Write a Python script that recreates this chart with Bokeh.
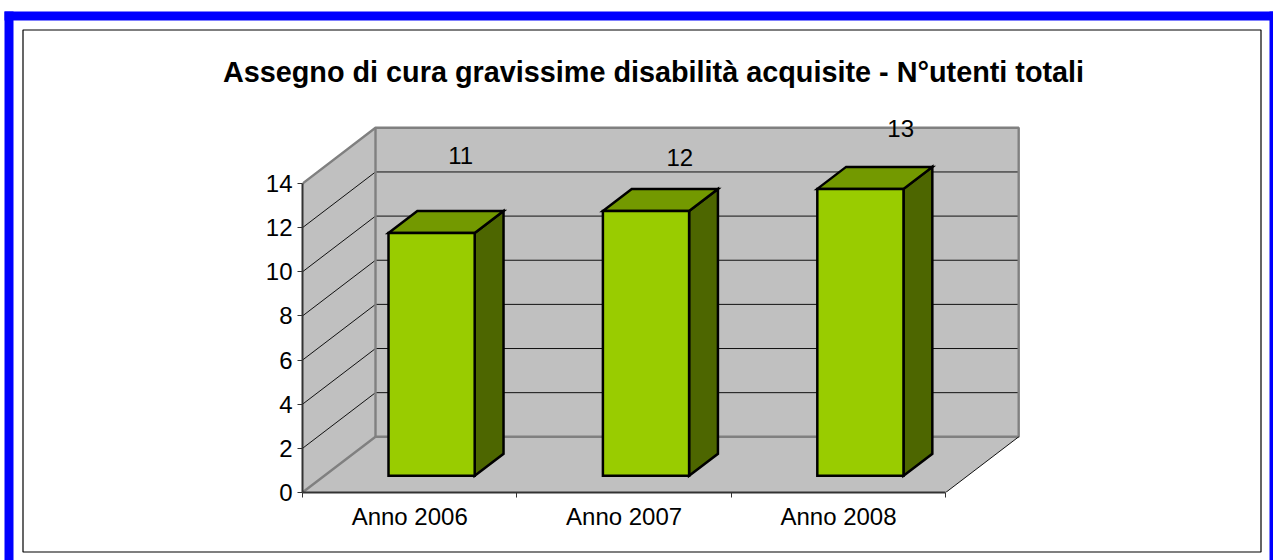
from bokeh.plotting import figure
from bokeh.embed import file_html
from bokeh.resources import INLINE
from bokeh.models import Range1d, FixedTicker
from bokeh.core.properties import value

categories = ["Anno 2006", "Anno 2007", "Anno 2008"]
users = [11, 12, 13]
y_ticks = [0, 2, 4, 6, 8, 10, 12, 14]
title_text = "Assegno di cura gravissime disabilità acquisite - N°utenti totali"

FONT = "Liberation Sans"
PX_CAT, PX_VAL = 214.4, 22.07
DX, DY = 73 / PX_CAT, 55.7 / PX_VAL   # full depth of the 3D box, in data units
YMAX, N = y_ticks[-1], len(categories)
WALL, EDGE = "#C0C0C0", "#808080"
W, H = 1273, 560


def pr(c, v, d=0.0):
    return c + DX * d, v + DY * d


def poly(pts):
    xy = [pr(*q) for q in pts]
    return [q[0] for q in xy], [q[1] for q in xy]


# ---- background page: blue frame, black box, title
bg = figure(width=W, height=H, output_backend="svg", toolbar_location=None,
            min_border=0, x_range=Range1d(0, W), y_range=Range1d(H, 0),
            outline_line_color=None, border_fill_color="white", background_fill_color="white",
            x_axis_location=None, y_axis_location=None)
bg.grid.visible = False
bg.quad(left=[4, 4, 1269], right=[1273, 13, 1273], top=[11, 11, 11], bottom=[20, 560, 560],
        fill_color="#0000FF", line_color=None)
bg.quad(left=[22.5], right=[1260.5], top=[29.5], bottom=[551.5], fill_color="white",
        line_color="black", line_width=1.2)
bg.text([653], [71.5], text=[title_text], text_font=value(FONT), text_font_style="bold",
        text_font_size="28.8px", text_color="black", text_align="center", text_baseline="middle")

# ---- chart on top
L, R, T, B = 302, 243, 115, 68
p = figure(width=W, height=H, output_backend="svg", toolbar_location=None,
           min_border_left=L, min_border_right=R, min_border_top=T, min_border_bottom=B,
           x_range=Range1d(0, (W - L - R) / PX_CAT), y_range=Range1d(0, (H - T - B) / PX_VAL),
           outline_line_color=None, background_fill_color=None, border_fill_color=None,
           margin=(-H, 0, 0, 0))
p.grid.visible = False

# walls and floor
back = poly([(0, 0, 1), (N, 0, 1), (N, YMAX, 1), (0, YMAX, 1)])
left = poly([(0, 0, 0), (0, 0, 1), (0, YMAX, 1), (0, YMAX, 0)])
floor = poly([(0, 0, 0), (N, 0, 0), (N, 0, 1), (0, 0, 1)])
p.patches([back[0], left[0], floor[0]], [back[1], left[1], floor[1]], fill_color=WALL, line_color=None)

# grid lines
grid = [v for v in y_ticks if 0 < v < YMAX]
gx, gy = [], []
for v in grid:
    a = poly([(0, v, 0), (0, v, 1), (N, v, 1)])
    gx.append(a[0]); gy.append(a[1])
p.multi_line(gx, gy, line_color="#111111", line_width=1)

# wall edges
e = poly([(0, 0, 0), (0, 0, 1), (N, 0, 1), (N, YMAX, 1), (0, YMAX, 1), (0, YMAX, 0)])
p.line(e[0], e[1], line_color=EDGE, line_width=2.4)
e2 = poly([(0, 0, 1), (0, YMAX, 1)])
p.line(e2[0], e2[1], line_color=EDGE, line_width=2.4)
e3 = poly([(N, 0, 0), (N, 0, 1)])
p.line(e3[0], e3[1], line_color="#111111", line_width=1)

# bars
D0, D1, HALF = 0.3, 0.695, 0.201
for i, v in enumerate(users):
    c = i + 0.5
    c0, c1 = c - HALF, c + HALF
    front = poly([(c0, 0, D0), (c1, 0, D0), (c1, v, D0), (c0, v, D0)])
    side = poly([(c1, 0, D0), (c1, 0, D1), (c1, v, D1), (c1, v, D0)])
    top = poly([(c0, v, D0), (c1, v, D0), (c1, v, D1), (c0, v, D1)])
    for shp, col in ((side, "#4D6600"), (top, "#739900"), (front, "#99CC00")):
        p.patch(shp[0], shp[1], fill_color=col, line_color="black", line_width=2.5, line_join="miter")

# data labels
lab_dx = [0.238, 0.26, 0.29]
lab_dy = [4.25, 3.2, 3.5]
p.text([i + 0.5 + lab_dx[i] for i in range(N)], [users[i] + lab_dy[i] for i in range(N)],
       text=[str(v) for v in users], text_font=value(FONT), text_font_size="24px", text_color="black",
       text_align="center", text_baseline="middle")

# axes
ya = p.yaxis[0]
ya.ticker = FixedTicker(ticks=y_ticks)
ya.bounds = (0, YMAX)
ya.axis_line_color = "#333333"; ya.axis_line_width = 2
ya.major_tick_line_color = "#333333"; ya.major_tick_in = 0; ya.major_tick_out = 5
ya.minor_tick_line_color = None
ya.major_label_text_font = FONT; ya.major_label_text_font_size = "24px"; ya.major_label_text_color = "black"
ya.major_label_standoff = 5

xa = p.xaxis[0]
xa.ticker = FixedTicker(ticks=[i + 0.5 for i in range(N)], minor_ticks=list(range(N + 1)))
xa.major_label_overrides = {i + 0.5: categories[i] for i in range(N)}
xa.bounds = (0, N)
xa.axis_line_color = "#333333"; xa.axis_line_width = 2
xa.major_tick_line_color = None
xa.minor_tick_line_color = "#333333"; xa.minor_tick_in = 0; xa.minor_tick_out = 5
xa.major_label_text_font = FONT; xa.major_label_text_font_size = "24px"; xa.major_label_text_color = "black"
xa.major_label_standoff = 4

open("out.html", "w").write(file_html([bg, p], INLINE))
